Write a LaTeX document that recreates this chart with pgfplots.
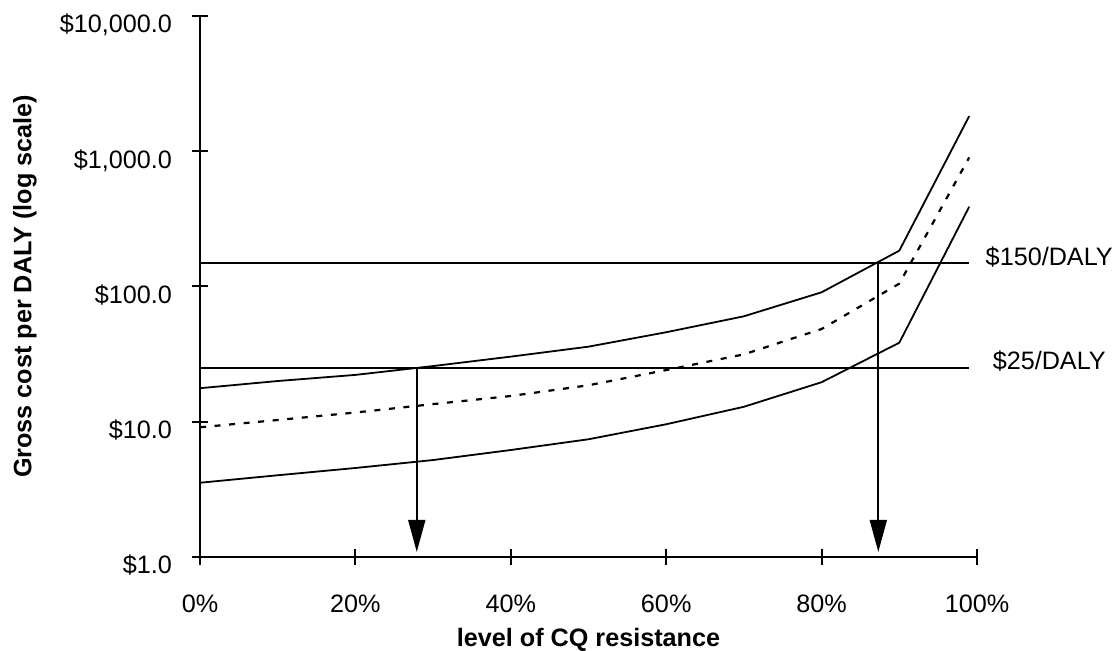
\documentclass[border=0pt]{standalone}
\usepackage{pgfplots}
\pgfplotsset{compat=1.18}
\usepackage{fontspec}
\setmainfont{Liberation Sans}
\usetikzlibrary{arrows.meta}

\begin{document}
\begin{tikzpicture}
\begin{axis}[
  at={(0,0)}, anchor=south west,
  scale only axis, width=388.5pt, height=270.5pt,
  xmin=0, xmax=100, ymin=1, ymax=10000,
  ymode=log, yminorticks=false,
  axis x line=bottom, axis y line=left,
  axis line style={-, line width=1pt},
  tick align=center, major tick length=8pt,
  tick style={line width=1pt, black},
  xtick={0,20,40,60,80,100},
  xticklabels={0\%,20\%,40\%,60\%,80\%,100\%},
  ytick={1,10,100,1000,10000},
  yticklabels={{\$1.0},{\$10.0},{\$100.0},{\$1,000.0},{\$10,000.0}},
  font=\fontsize{12.6}{15}\selectfont,
  xticklabel style={anchor=base, yshift=-24pt},
  yticklabel style={anchor=base east, xshift=-6.5pt, yshift=-8.5pt},
  xlabel={\bfseries level of CQ resistance},
  ylabel={\bfseries Gross cost per DALY (log scale)},
  every axis x label/.style={at={(rel axis cs:0.5,0)}, anchor=base, yshift=-45pt},
  every axis y label/.style={at={(rel axis cs:0,0.5)}, xshift=-87.5pt, anchor=center, rotate=90},
  clip=false,
]
% upper bound of the cost estimate
\addplot[black, line width=0.9pt] coordinates {
  (0,17.7) (10,20.0) (20,22.2) (30,25.8) (40,30.3) (50,35.9)
  (60,45.9) (70,60.2) (80,90.6) (90,184) (99,1820)};
% central estimate
\addplot[black, line width=1.1pt, dash pattern=on 3pt off 4.3pt] coordinates {
  (0,9.1) (10,10.3) (20,11.7) (30,13.5) (40,15.5) (50,18.6)
  (60,24.1) (70,31.5) (80,48.5) (90,105) (99,900)};
% lower bound of the cost estimate
\addplot[black, line width=0.9pt] coordinates {
  (0,3.54) (10,4.02) (20,4.55) (30,5.21) (40,6.18) (50,7.42)
  (60,9.58) (70,12.9) (80,19.6) (90,38.4) (99,389)};
% cost-effectiveness thresholds
\addplot[black, line width=0.9pt] coordinates {(0,150) (99,150)};
\addplot[black, line width=0.9pt] coordinates {(0,25) (99,25)};
\node[anchor=base] at (axis cs:109.3,150) [yshift=-1.2pt] {\$150/DALY};
\node[anchor=base] at (axis cs:109.3,25) [yshift=-0.9pt] {\$25/DALY};
% resistance levels where the upper estimate meets each threshold
\addplot[black, line width=0.9pt, -{Triangle[width=8.5pt,length=16pt]}]
  coordinates {(27.9,25) (27.9,1.09)};
\addplot[black, line width=0.9pt, -{Triangle[width=8.5pt,length=16pt]}]
  coordinates {(87.3,150) (87.3,1.09)};
\end{axis}
\pgfresetboundingbox
\path[use as bounding box] (-100pt,-47pt) rectangle (458pt,278.5pt);
\end{tikzpicture}
\end{document}
